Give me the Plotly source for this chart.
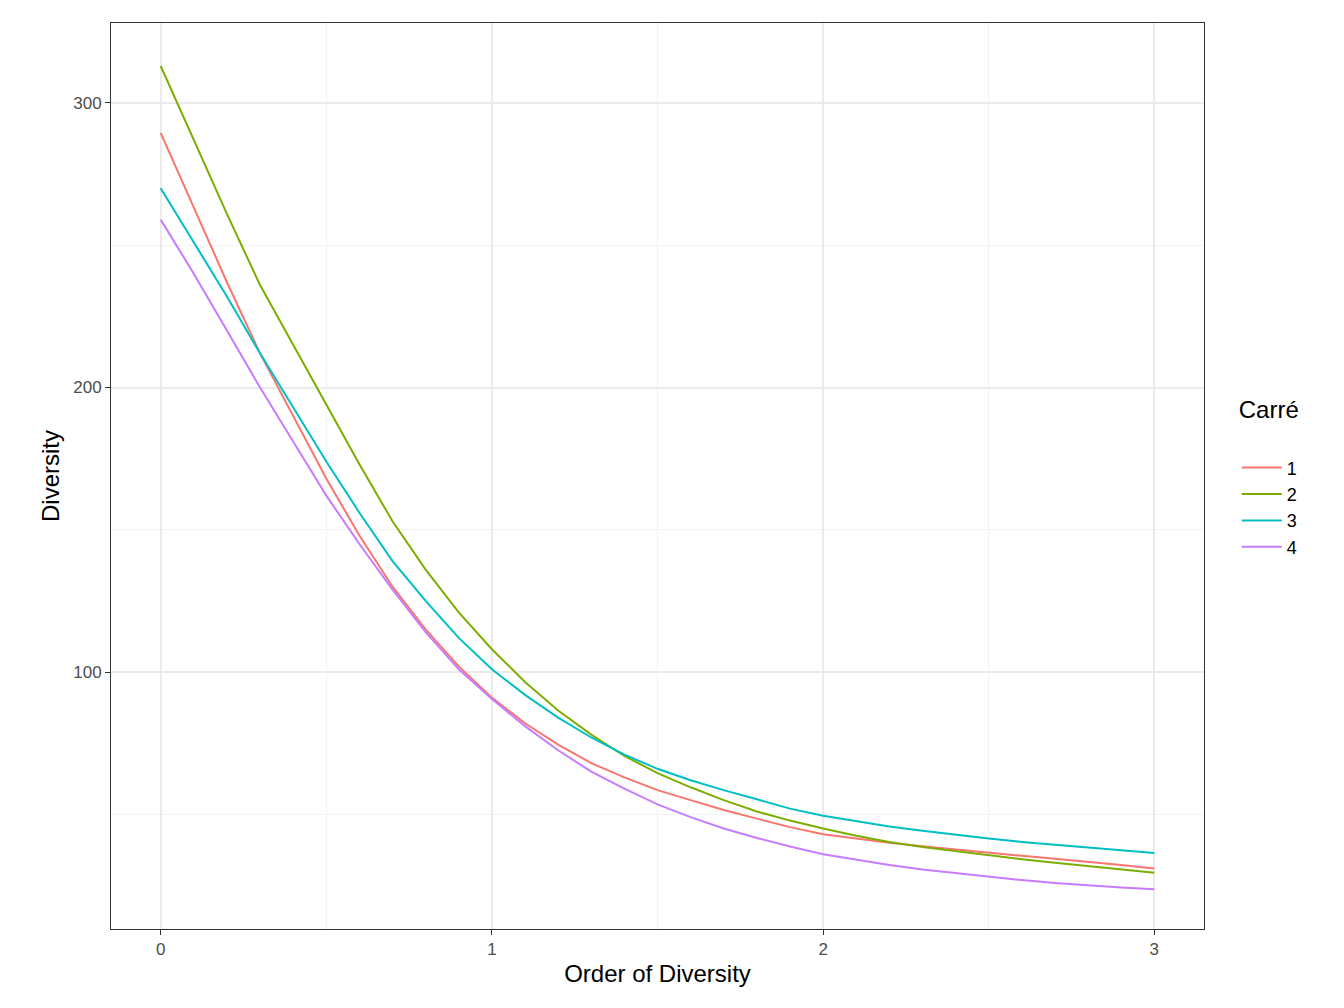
import plotly.graph_objects as go

q = [round(i*0.1, 1) for i in range(31)]
s1 = [289.5,263,237,212,190,168,148,130,115,102,91,82,74.5,68,63,58.5,55,51.5,48.5,45.5,43,41.5,40,38.8,37.6,36.5,35.4,34.4,33.4,32.2,31]
s2 = [313,287,261,236,215,194,173,153,136,121,108,96.5,86.5,78,70.5,64.5,59.5,55,51,47.8,45,42.5,40.3,38.5,37,35.6,34.2,33,31.8,30.5,29.5]
s3 = [270,251,232,212,193,174,156,139,125,112,101,92,84,77,71,66,62,58.5,55.3,52,49.5,47.5,45.7,44.2,42.8,41.5,40.3,39.3,38.3,37.3,36.4]
s4 = [259,240,220,200,181,162,145,129,114,101,90.5,81,72.5,65,59,53.5,49,45,41.7,38.7,36,34,32.2,30.6,29.3,28,26.9,25.9,25,24.3,23.7]
names = ["1","2","3","4"]
colors = ["#F8766D","#7CAE00","#00BFC4","#C77CFF"]

fig = go.Figure()
for n, s, c in zip(names, [s1,s2,s3,s4], colors):
    fig.add_trace(go.Scatter(x=q, y=s, mode="lines", name=n, line=dict(color=c, width=2)))

ax = dict(showline=True, mirror=True, linecolor="#333333", linewidth=1, gridcolor="#EBEBEB", gridwidth=2,
          ticks="outside", ticklen=5, tickcolor="#333333", zeroline=False,
          tickfont=dict(size=17, color="#4D4D4D"), title_font=dict(size=24, color="black"))
fig.update_layout(
    width=1344, height=1008, plot_bgcolor="white", paper_bgcolor="white",
    font=dict(family="Liberation Sans, Arial", color="black"),
    margin=dict(l=103, r=148, t=15, b=87),
    xaxis=dict(ax, title=dict(text="Order of Diversity", standoff=6), range=[-0.15, 3.15], tickvals=[0,1,2,3],
               minor=dict(tickvals=[0.5,1.5,2.5], showgrid=True, gridcolor="#F2F2F2", gridwidth=1)),
    yaxis=dict(ax, title=dict(text="Diversity", standoff=6), range=[9.7, 328.1], tickvals=[100,200,300],
               minor=dict(tickvals=[50,150,250], showgrid=True, gridcolor="#F2F2F2", gridwidth=1)),
    legend=dict(title=dict(text="Carré<br> ", font=dict(size=24)), font=dict(size=18), x=1.03, y=0.5, yanchor="middle",
                tracegroupgap=18, itemwidth=40),
)
fig.write_html("out.html")
